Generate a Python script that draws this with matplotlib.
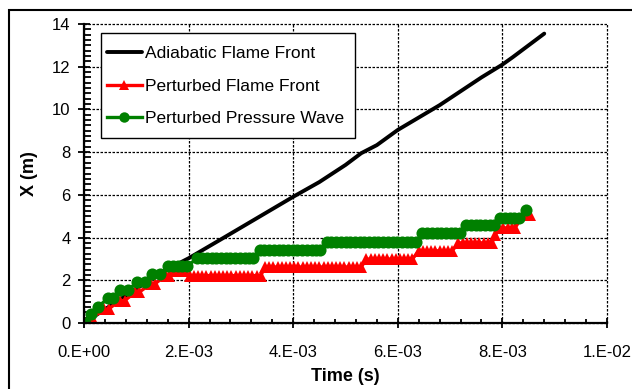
import matplotlib
matplotlib.use("Agg")
import matplotlib.pyplot as plt
from matplotlib.ticker import FixedLocator, MultipleLocator
from matplotlib.patches import Rectangle

plt.rcParams['font.family'] = ['Liberation Sans', 'DejaVu Sans']

# ---------------- data (time in ms, position in m) ----------------
adiabatic_t_ms = [0.0, 0.5, 1.0, 1.5, 2.0, 2.6, 3.3, 4.0, 4.5, 5.0, 5.3, 5.6, 6.0,
                  6.8, 7.2, 7.6, 8.0, 8.2, 8.8]
adiabatic_x = [0.0, 0.8, 1.6, 2.4, 3.03, 3.89, 4.9, 5.91, 6.6, 7.4, 7.95, 8.33, 9.04,
               10.2, 10.85, 11.5, 12.1, 12.45, 13.55]

flame_t_ms = [0.02, 0.15, 0.38, 0.47, 0.68, 0.78, 0.98, 1.06, 1.28, 1.36, 1.56, 1.63,
              1.72, 1.82, 1.92,
              2.02, 2.10, 2.18, 2.26, 2.34, 2.42, 2.50, 2.58, 2.66, 2.74, 2.82, 2.90,
              2.98, 3.06, 3.14, 3.22, 3.30, 3.38,
              3.46, 3.54, 3.62, 3.70, 3.78, 3.86, 3.94, 4.02, 4.10, 4.18, 4.26, 4.34,
              4.42, 4.50, 4.58, 4.66, 4.74, 4.82, 4.90, 4.98, 5.06, 5.14, 5.22, 5.30,
              5.40, 5.48, 5.56, 5.64, 5.72, 5.80, 5.88, 5.96, 6.04, 6.12, 6.20, 6.28,
              6.40, 6.48, 6.56, 6.64, 6.72, 6.80, 6.88, 6.96, 7.04,
              7.16, 7.24, 7.32, 7.40, 7.48, 7.56, 7.64, 7.72, 7.80,
              7.86,
              7.94, 8.02, 8.10, 8.18, 8.24,
              8.40, 8.52]
flame_x = [0.0, 0.22, 0.65, 0.65, 1.05, 1.05, 1.45, 1.45, 1.84, 1.84, 2.22, 2.22,
           2.45, 2.45, 2.45,
           2.22, 2.22, 2.22, 2.22, 2.22, 2.22, 2.22, 2.22, 2.22, 2.22, 2.22, 2.22,
           2.22, 2.22, 2.22, 2.22, 2.22, 2.22,
           2.62, 2.62, 2.62, 2.62, 2.62, 2.62, 2.62, 2.62, 2.62, 2.62, 2.62, 2.62,
           2.62, 2.62, 2.62, 2.62, 2.62, 2.62, 2.62, 2.62, 2.62, 2.62, 2.62, 2.62,
           2.99, 2.99, 2.99, 2.99, 2.99, 2.99, 2.99, 2.99, 2.99, 2.99, 2.99, 2.99,
           3.38, 3.38, 3.38, 3.38, 3.38, 3.38, 3.38, 3.38, 3.38,
           3.75, 3.75, 3.75, 3.75, 3.75, 3.75, 3.75, 3.75, 3.75,
           4.10,
           4.45, 4.45, 4.45, 4.45, 4.45,
           5.05, 5.05]

wave_t_ms = [0.02, 0.13, 0.27, 0.46, 0.55, 0.69, 0.84, 1.01, 1.17, 1.30, 1.45,
             1.61, 1.70, 1.79, 1.88, 1.97,
             2.17, 2.26, 2.35, 2.44, 2.53, 2.62, 2.71, 2.80, 2.89, 2.98, 3.07, 3.16, 3.24,
             3.36, 3.45, 3.54, 3.63, 3.72, 3.81, 3.90, 3.99, 4.08, 4.17, 4.26, 4.35, 4.44, 4.52,
             4.64, 4.73, 4.82, 4.91, 5.00, 5.09, 5.18, 5.27, 5.36, 5.45, 5.54, 5.63, 5.72,
             5.81, 5.90, 5.99, 6.08, 6.17, 6.26, 6.35,
             6.47, 6.56, 6.65, 6.74, 6.83, 6.92, 7.01, 7.10, 7.19,
             7.31, 7.40, 7.49, 7.58, 7.67, 7.76, 7.84,
             7.96, 8.05, 8.14, 8.23, 8.32,
             8.46]
wave_x = [0.0, 0.41, 0.76, 1.16, 1.16, 1.54, 1.54, 1.90, 1.90, 2.28, 2.28,
          2.67, 2.67, 2.67, 2.67, 2.67,
          3.03, 3.03, 3.03, 3.03, 3.03, 3.03, 3.03, 3.03, 3.03, 3.03, 3.03, 3.03, 3.03,
          3.40, 3.40, 3.40, 3.40, 3.40, 3.40, 3.40, 3.40, 3.40, 3.40, 3.40, 3.40, 3.40, 3.40,
          3.80, 3.80, 3.80, 3.80, 3.80, 3.80, 3.80, 3.80, 3.80, 3.80, 3.80, 3.80, 3.80,
          3.80, 3.80, 3.80, 3.80, 3.80, 3.80, 3.80,
          4.20, 4.20, 4.20, 4.20, 4.20, 4.20, 4.20, 4.20, 4.20,
          4.59, 4.59, 4.59, 4.59, 4.59, 4.59, 4.59,
          4.93, 4.93, 4.93, 4.93, 4.93,
          5.29]

series_labels = ['Adiabatic Flame Front', 'Perturbed Flame Front', 'Perturbed Pressure Wave']
x_tick_values = [0.0, 0.002, 0.004, 0.006, 0.008, 0.010]
x_tick_labels = ['0.E+00', '2.E-03', '4.E-03', '6.E-03', '8.E-03', '1.E-02']
y_tick_values = [0, 2, 4, 6, 8, 10, 12, 14]

# ---------------- figure ----------------
W, H = 632, 389
AX_L, AX_R, AX_T, AX_B = 84, 607, 24, 323
fig = plt.figure(figsize=(W / 100, H / 100), dpi=100)
ax = fig.add_axes([AX_L / W, (H - AX_B) / H, (AX_R - AX_L) / W, (AX_B - AX_T) / H])


def ax_frac(px, py):
    return (px - AX_L) / (AX_R - AX_L), (AX_B - py) / (AX_B - AX_T)


# outer chart border
fig.add_artist(Rectangle((9 / W, -0.1), 1.2, (H - 10) / H + 0.1,
                         transform=fig.transFigure, fill=False,
                         edgecolor='black', linewidth=1.5))

to_s = lambda lst: [v * 1e-3 for v in lst]

ax.plot(to_s(adiabatic_t_ms), adiabatic_x, color='black', linewidth=2.8,
        label=series_labels[0], zorder=3, solid_capstyle='round')
ax.plot(to_s(flame_t_ms), flame_x, color='#ff0000', linewidth=2.4,
        marker='^', markersize=9.3, markeredgewidth=0,
        label=series_labels[1], zorder=4)
ax.plot(to_s(wave_t_ms), wave_x, color='#008000', linewidth=2.4,
        marker='o', markersize=8.7, markeredgewidth=0,
        label=series_labels[2], zorder=5)

ax.set_xlim(0, 0.01)
ax.set_ylim(0, 14)
ax.xaxis.set_major_locator(FixedLocator(x_tick_values))
ax.set_xticklabels(x_tick_labels)
ax.xaxis.set_minor_locator(MultipleLocator(0.0004))
ax.yaxis.set_major_locator(FixedLocator(y_tick_values))
ax.yaxis.set_minor_locator(MultipleLocator(0.25))

ax.tick_params(axis='both', which='major', labelsize=12, width=1.3, colors='black')
ax.tick_params(axis='x', which='major', direction='inout', length=7.2, pad=12)
ax.tick_params(axis='x', which='minor', direction='in', length=3.2, width=1.3)
ax.tick_params(axis='y', which='major', direction='inout', length=8.6, pad=5.3)
ax.tick_params(axis='y', which='minor', direction='in', length=4.8, width=1.3)

for s in ['top', 'right']:
    ax.spines[s].set_visible(False)
for s in ['left', 'bottom']:
    ax.spines[s].set_linewidth(1.6)
    ax.spines[s].set_zorder(6)

ax.grid(True, which='major', color='black', linestyle=(0, (2, 1.2)), linewidth=0.9)
for gl in ax.get_xgridlines() + ax.get_ygridlines():
    gl.set_clip_on(False)

ax.set_xlabel('Time (s)', fontsize=13, fontweight='bold')
ax.xaxis.set_label_coords(0.5, (323 - 376.7) / 299)
ax.xaxis.label.set_va('center')
ax.set_ylabel('X (m)', fontsize=13, fontweight='bold')
ax.yaxis.set_label_coords((29.5 - 84) / 523, 0.5)
ax.yaxis.label.set_va('center')
ax.yaxis.label.set_ha('center')

# legend box (drawn as its own frame) and entries
bx0, by0 = ax_frac(100.7, 138.3)
bx1, by1 = ax_frac(355, 33.3)
ax.add_patch(Rectangle((bx0, by0), bx1 - bx0, by1 - by0, transform=ax.transAxes,
                       facecolor='white', edgecolor='black', linewidth=1.0,
                       zorder=9, clip_on=False))
lx, ly = ax_frac(107, 86)
leg = ax.legend(loc='center left', bbox_to_anchor=(lx, ly),
                borderaxespad=0, borderpad=0, fontsize=12.5, frameon=False,
                handlelength=2.0, handletextpad=0.2, labelspacing=1.0)
for h in leg.legend_handles:
    h.set_markersize(7.5)
leg.set_zorder(10)

fig.savefig('out.png', dpi=100)
